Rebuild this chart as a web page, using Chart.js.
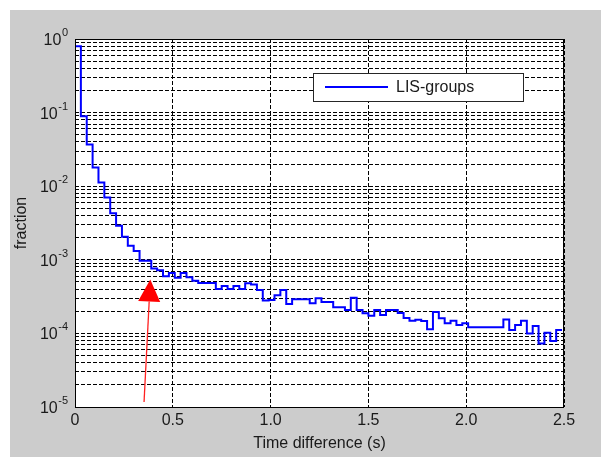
<!DOCTYPE html>
<html>
<head>
<meta charset="utf-8">
<script src="https://cdn.jsdelivr.net/npm/chart.js@4.4.1/dist/chart.umd.min.js"></script>
<style>
  html, body { margin: 0; padding: 0; background: #fff; }
  canvas { display: block; }
</style>
</head>
<body>
<canvas id="myChart" width="601" height="457"></canvas>
<script>
// start time of each stairs step (s)
const timeSec = [
  0.00, 0.03, 0.06, 0.09, 0.12, 0.15, 0.18, 0.21, 0.24, 0.27,
  0.30, 0.33, 0.36, 0.39, 0.42, 0.45, 0.48, 0.51, 0.54, 0.57,
  0.60, 0.63, 0.66, 0.69, 0.72, 0.75, 0.78, 0.81, 0.84, 0.87,
  0.90, 0.93, 0.96, 0.99, 1.02, 1.05, 1.08, 1.11, 1.14, 1.17,
  1.20, 1.23, 1.26, 1.29, 1.32, 1.35, 1.38, 1.41, 1.44, 1.47,
  1.50, 1.53, 1.56, 1.59, 1.62, 1.65, 1.68, 1.71, 1.74, 1.77,
  1.80, 1.83, 1.86, 1.89, 1.92, 1.95, 1.98, 2.01, 2.04, 2.07,
  2.10, 2.13, 2.16, 2.19, 2.22, 2.25, 2.28, 2.31, 2.34, 2.37,
  2.40, 2.43, 2.46, 2.49
];

// fraction of LIS groups per step
const lisFraction = [
  0.80, 0.089, 0.037, 0.018, 0.0112, 0.0070, 0.0043, 0.0029, 0.00206, 0.00155,
  0.00132, 0.00097, 0.00097, 0.00076, 0.00072, 0.00060, 0.00066, 0.00057, 0.00066, 0.00058,
  0.00052, 0.000484, 0.000484, 0.000484, 0.00040, 0.00044, 0.00040, 0.00044, 0.00040, 0.00048,
  0.00046, 0.00039, 0.00028, 0.000285, 0.00033, 0.00039, 0.00025, 0.00029, 0.00029, 0.00029,
  0.000256, 0.00030, 0.000267, 0.000267, 0.000226, 0.000226, 0.000208, 0.000305, 0.000208, 0.000188,
  0.000174, 0.000208, 0.000178, 0.000208, 0.000208, 0.000189, 0.000162, 0.000149, 0.000153, 0.000147,
  0.000114, 0.000195, 0.000161, 0.000137, 0.000149, 0.00013, 0.000137, 0.000121, 0.000121, 0.000121,
  0.000121, 0.000121, 0.000121, 0.000155, 0.000111, 0.00013, 0.000149, 0.0001, 0.000126, 0.000073,
  0.000102, 0.000079, 0.000111, 0.000111
];

const seriesName = 'LIS-groups';
const xTicks = [0, 0.5, 1, 1.5, 2, 2.5];
const decades = [-5, -4, -3, -2, -1, 0];

// red arrow, in data units [time, fraction]
const arrowFrom = [0.353, 1.17e-5];
const arrowTo = [0.385, 5.4e-4];

const FONT = "'Liberation Sans', Arial, sans-serif";
const TEXT = '#1a1a1a';

// log grid: 1..9 in every decade
const yGrid = [];
decades.forEach(d => {
  if (d === decades[decades.length - 1]) { yGrid.push(Math.pow(10, d)); return; }
  for (let m = 1; m <= 9; m++) yGrid.push(m * Math.pow(10, d));
});

const points = timeSec.map((t, i) => ({ x: t, y: lisFraction[i] }));

const matlabFrame = {
  id: 'matlabFrame',
  beforeDraw(chart) {
    const { ctx, chartArea: a } = chart;
    ctx.save();
    ctx.fillStyle = '#fff';
    ctx.fillRect(0, 0, chart.width, chart.height);
    ctx.fillStyle = '#cccccc';
    ctx.fillRect(10, 10, chart.width - 10, chart.height - 10);
    ctx.fillStyle = '#fff';
    ctx.fillRect(a.left, a.top, a.right - a.left, a.bottom - a.top);
    ctx.restore();
  },
  afterDraw(chart) {
    const { ctx, chartArea: a } = chart;
    const xs = chart.scales.x, ys = chart.scales.y;
    ctx.save();

    // axes box
    ctx.strokeStyle = '#000';
    ctx.lineWidth = 1;
    ctx.setLineDash([]);
    ctx.strokeRect(a.left + 0.5, a.top + 0.5, a.right - a.left - 1, a.bottom - a.top);

    // 10^n labels
    ctx.fillStyle = TEXT;
    ctx.textBaseline = 'alphabetic';
    decades.forEach(d => {
      const y = ys.getPixelForValue(Math.pow(10, d));
      const exp = String(d);
      ctx.font = '11px ' + FONT;
      ctx.textAlign = 'right';
      const expRight = a.left - 7;
      const expW = ctx.measureText(exp).width;
      ctx.fillText(exp, expRight, y - 3);
      ctx.font = '16px ' + FONT;
      ctx.fillText('10', expRight - expW - 0.5, y + 6);
    });

    // arrow
    const x0 = xs.getPixelForValue(arrowFrom[0]), y0 = ys.getPixelForValue(arrowFrom[1]);
    const x1 = xs.getPixelForValue(arrowTo[0]), y1 = ys.getPixelForValue(arrowTo[1]);
    const ang = Math.atan2(y1 - y0, x1 - x0);
    const headLen = 22, headHalf = 11;
    const bx = x1 - headLen * Math.cos(ang), by = y1 - headLen * Math.sin(ang);
    ctx.strokeStyle = '#ff2020';
    ctx.lineWidth = 1.3;
    ctx.beginPath();
    ctx.moveTo(x0, y0);
    ctx.lineTo(bx, by);
    ctx.stroke();
    ctx.fillStyle = '#ff0000';
    ctx.beginPath();
    ctx.moveTo(x1, y1);
    ctx.lineTo(bx + headHalf * Math.sin(ang), by - headHalf * Math.cos(ang));
    ctx.lineTo(bx - headHalf * Math.sin(ang), by + headHalf * Math.cos(ang));
    ctx.closePath();
    ctx.fill();

    // legend box
    const lx = a.left + 238, ly = a.top + 34, lw = 210, lh = 28;
    ctx.fillStyle = '#fff';
    ctx.fillRect(lx, ly, lw, lh);
    ctx.strokeStyle = '#262626';
    ctx.lineWidth = 1;
    ctx.strokeRect(lx + 0.5, ly + 0.5, lw, lh);
    const ds = chart.data.datasets[0];
    ctx.strokeStyle = ds.borderColor;
    ctx.lineWidth = 2;
    ctx.beginPath();
    ctx.moveTo(lx + 12, ly + 14);
    ctx.lineTo(lx + 75, ly + 14);
    ctx.stroke();
    ctx.fillStyle = TEXT;
    ctx.font = '16px ' + FONT;
    ctx.textAlign = 'left';
    ctx.textBaseline = 'middle';
    ctx.fillText(ds.label, lx + 83, ly + 15);
    ctx.restore();
  }
};

const ctx = document.getElementById('myChart').getContext('2d');
const myChart = new Chart(ctx, {
  type: 'line',
  data: {
    datasets: [{
      label: seriesName,
      data: points,
      borderColor: '#0000ff',
      borderWidth: 2,
      pointRadius: 0,
      stepped: true,
      fill: false
    }]
  },
  options: {
    responsive: false,
    animation: false,
    layout: { padding: { top: 39, right: 37, left: 0, bottom: 0 } },
    plugins: {
      legend: { display: false },
      tooltip: { enabled: false }
    },
    scales: {
      x: {
        type: 'linear',
        min: 0,
        max: 2.5,
        afterBuildTicks: s => { s.ticks = xTicks.map(v => ({ value: v })); },
        afterFit: s => { s.height = 50; },
        grid: { color: '#000', lineWidth: 1, drawTicks: false },
        border: { display: false, dash: [4, 2] },
        ticks: { color: TEXT, font: { family: FONT, size: 16 }, padding: 4, maxRotation: 0 },
        title: {
          display: true,
          text: 'Time difference (s)',
          color: TEXT,
          font: { family: FONT, size: 16 },
          padding: { top: 0, bottom: 4 }
        }
      },
      y: {
        type: 'logarithmic',
        min: 1e-5,
        max: 1,
        afterBuildTicks: s => { s.ticks = yGrid.map(v => ({ value: v })); },
        afterFit: s => { s.width = 75; },
        grid: { color: '#000', lineWidth: 1, drawTicks: false },
        border: { display: false, dash: [4, 2] },
        ticks: { display: false },
        title: {
          display: true,
          text: 'fraction',
          color: TEXT,
          font: { family: FONT, size: 16 },
          padding: { top: 12, bottom: 0 }
        }
      }
    }
  },
  plugins: [matlabFrame]
});
</script>
</body>
</html>
